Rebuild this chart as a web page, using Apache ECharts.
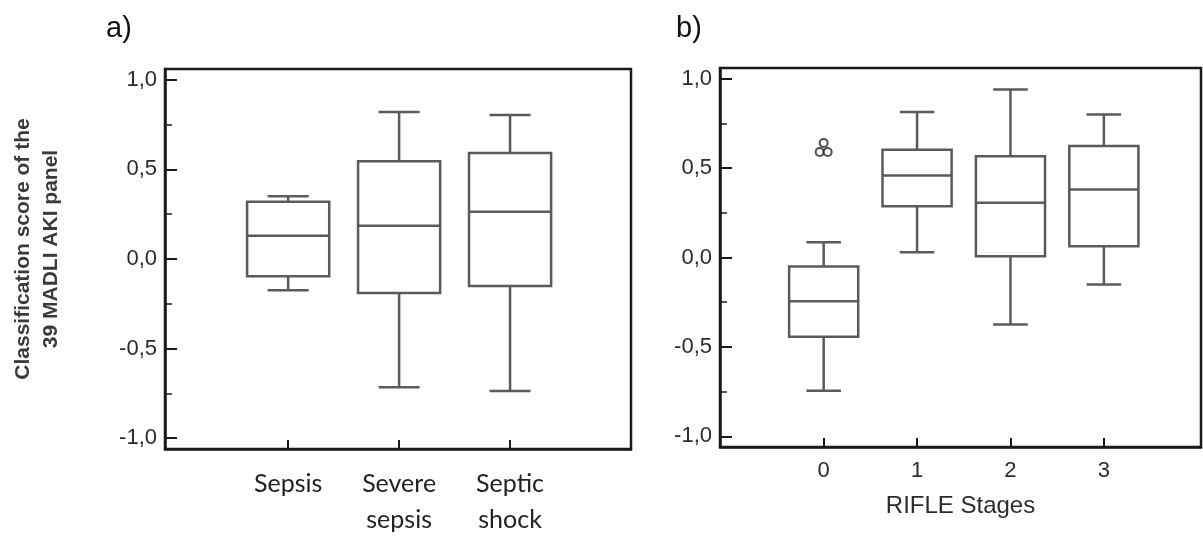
<!DOCTYPE html>
<html>
<head>
<meta charset="utf-8">
<script src="https://cdn.jsdelivr.net/npm/echarts@6/dist/echarts.min.js"></script>
<style>
html, body { margin: 0; padding: 0; background: #fff; }
#main { width: 1203px; height: 538px; }
</style>
</head>
<body>
<div id="main"></div>
<script>
// a) sepsis groups
var groupsA = ['Sepsis', 'Severe\nsepsis', 'Septic\nshock'];
// each row: [min, Q1, median, Q3, max]
var boxA = [
  [-0.175, -0.096, 0.13, 0.32, 0.35],
  [-0.715, -0.19, 0.185, 0.545, 0.82],
  [-0.737, -0.151, 0.264, 0.591, 0.803]
];
// b) RIFLE stages
var stagesB = ['0', '1', '2', '3'];
var boxB = [
  [-0.745, -0.443, -0.245, -0.05, 0.086],
  [0.03, 0.287, 0.459, 0.603, 0.814],
  [-0.375, 0.007, 0.306, 0.567, 0.94],
  [-0.151, 0.063, 0.381, 0.624, 0.80]
];
// outliers of stage 0
var outlierStage = [0, 0, 0];
var outlierVal = [0.59, 0.59, 0.64];
// y axis ticks
var yMajor = [-1, -0.5, 0, 0.5, 1];
var yMinor = [-0.75, -0.25, 0.25, 0.75];

var sans = "'Liberation Sans', Arial, sans-serif";
var ink = '#1a1a1a';
var boxColor = '#5a5a5a';

function boxItem(params, api) {
  var x = api.value(0);
  var pMin = api.coord([x, api.value(1)]);
  var pQ1 = api.coord([x, api.value(2)]);
  var pMed = api.coord([x, api.value(3)]);
  var pQ3 = api.coord([x, api.value(4)]);
  var pMax = api.coord([x, api.value(5)]);
  var w = api.size([0.74, 0])[0];
  var cx = pMed[0];
  var half = w / 2, cap = w / 4;
  var st = { stroke: boxColor, lineWidth: 2.5, fill: null };
  return {
    type: 'group',
    children: [
      { type: 'line', shape: { x1: cx, y1: pMax[1], x2: cx, y2: pQ3[1] }, style: st },
      { type: 'line', shape: { x1: cx, y1: pQ1[1], x2: cx, y2: pMin[1] }, style: st },
      { type: 'line', shape: { x1: cx - cap, y1: pMax[1], x2: cx + cap, y2: pMax[1] }, style: st },
      { type: 'line', shape: { x1: cx - cap, y1: pMin[1], x2: cx + cap, y2: pMin[1] }, style: st },
      { type: 'rect', shape: { x: cx - half, y: pQ3[1], width: w, height: pQ1[1] - pQ3[1] },
        style: { stroke: boxColor, lineWidth: 2.5, fill: '#fff' } },
      { type: 'line', shape: { x1: cx - half, y1: pMed[1], x2: cx + half, y2: pMed[1] }, style: st }
    ]
  };
}

function yLabel(v) {
  return v.toFixed(1).replace('.', ',');
}

function yAxes(grid, withName) {
  var major = {
    type: 'value', gridIndex: grid, min: -1.06, max: 1.06,
    axisLine: { show: true, onZero: false, lineStyle: { color: ink, width: 2.5 } },
    splitLine: { show: false },
    axisTick: { show: true, inside: true, length: 12, customValues: yMajor, lineStyle: { color: ink, width: 2 } },
    axisLabel: { customValues: yMajor, formatter: yLabel, fontFamily: sans, fontSize: 22, color: '#2b2b2b', margin: 8 }
  };
  if (withName) {
    major.name = 'Classification score of the\n39 MADLI AKI panel';
    major.nameLocation = 'middle';
    major.nameRotate = 90;
    major.nameGap = 100;
    major.nameTextStyle = { fontFamily: sans, fontSize: 21, fontWeight: 'bold', color: '#3a3a3a', lineHeight: 28, padding: [0, 0, 0, 20] };
  }
  var minor = {
    type: 'value', gridIndex: grid, min: -1.06, max: 1.06, position: 'left',
    axisLine: { show: false, onZero: false },
    splitLine: { show: false },
    axisTick: { show: true, inside: true, length: 7, customValues: yMinor, lineStyle: { color: ink, width: 1.5 } },
    axisLabel: { show: false }
  };
  return [major, minor];
}

var chart = echarts.init(document.getElementById('main'));
chart.setOption({
  animation: false,
  backgroundColor: '#fff',
  title: [
    { text: 'a)', left: 101, top: 9, textStyle: { fontFamily: sans, fontSize: 29, fontWeight: 'normal', color: '#111' } },
    { text: 'b)', left: 671, top: 9, textStyle: { fontFamily: sans, fontSize: 29, fontWeight: 'normal', color: '#111' } }
  ],
  grid: [
    { left: 165, top: 69, width: 466, height: 382, show: true, borderColor: ink, borderWidth: 2.5 },
    { left: 720, top: 68, width: 481, height: 379, show: true, borderColor: ink, borderWidth: 2.5 }
  ],
  xAxis: [
    {
      type: 'value', gridIndex: 0, min: -1.11, max: 3.09,
      axisLine: { onZero: false, lineStyle: { color: ink, width: 2.5 } },
      splitLine: { show: false },
      axisTick: { inside: true, length: 9, customValues: [0, 1, 2], lineStyle: { color: ink, width: 2 } },
      axisLabel: {
        customValues: [0, 1, 2], formatter: function (v) { return groupsA[v]; },
        fontFamily: 'Lato, sans-serif', fontSize: 25, lineHeight: 36, color: '#222', margin: 17
      }
    },
    {
      type: 'value', gridIndex: 1, min: -1.11, max: 4.04,
      name: 'RIFLE Stages', nameLocation: 'middle', nameGap: 47,
      nameTextStyle: { fontFamily: sans, fontSize: 24, color: '#2b2b2b' },
      axisLine: { onZero: false, lineStyle: { color: ink, width: 2.5 } },
      splitLine: { show: false },
      axisTick: { inside: true, length: 9, customValues: [0, 1, 2, 3], lineStyle: { color: ink, width: 2 } },
      axisLabel: {
        customValues: [0, 1, 2, 3], formatter: function (v) { return stagesB[v]; },
        fontFamily: sans, fontSize: 22, color: '#2b2b2b', margin: 13
      }
    }
  ],
  yAxis: yAxes(0, true).concat(yAxes(1, false)),
  series: [
    {
      type: 'custom', xAxisIndex: 0, yAxisIndex: 0,
      renderItem: boxItem,
      encode: { x: 0, y: [1, 2, 3, 4, 5] },
      data: boxA.map(function (b, i) { return [i].concat(b); })
    },
    {
      type: 'custom', xAxisIndex: 1, yAxisIndex: 2,
      renderItem: boxItem,
      encode: { x: 0, y: [1, 2, 3, 4, 5] },
      data: boxB.map(function (b, i) { return [i].concat(b); })
    },
    {
      type: 'scatter', xAxisIndex: 1, yAxisIndex: 2,
      symbol: 'emptyCircle', symbolSize: 8,
      itemStyle: { color: '#222', borderWidth: 1.3 },
      data: outlierStage.map(function (s, i) {
        // spread tied outliers side by side
        var ties = outlierVal.filter(function (v) { return v === outlierVal[i]; }).length;
        var rank = outlierVal.slice(0, i).filter(function (v) { return v === outlierVal[i]; }).length;
        var dx = ties > 1 ? (rank - (ties - 1) / 2) * 8 : 0;
        return { value: [s, outlierVal[i]], symbolOffset: [dx, 0] };
      })
    }
  ]
});
</script>
</body>
</html>
